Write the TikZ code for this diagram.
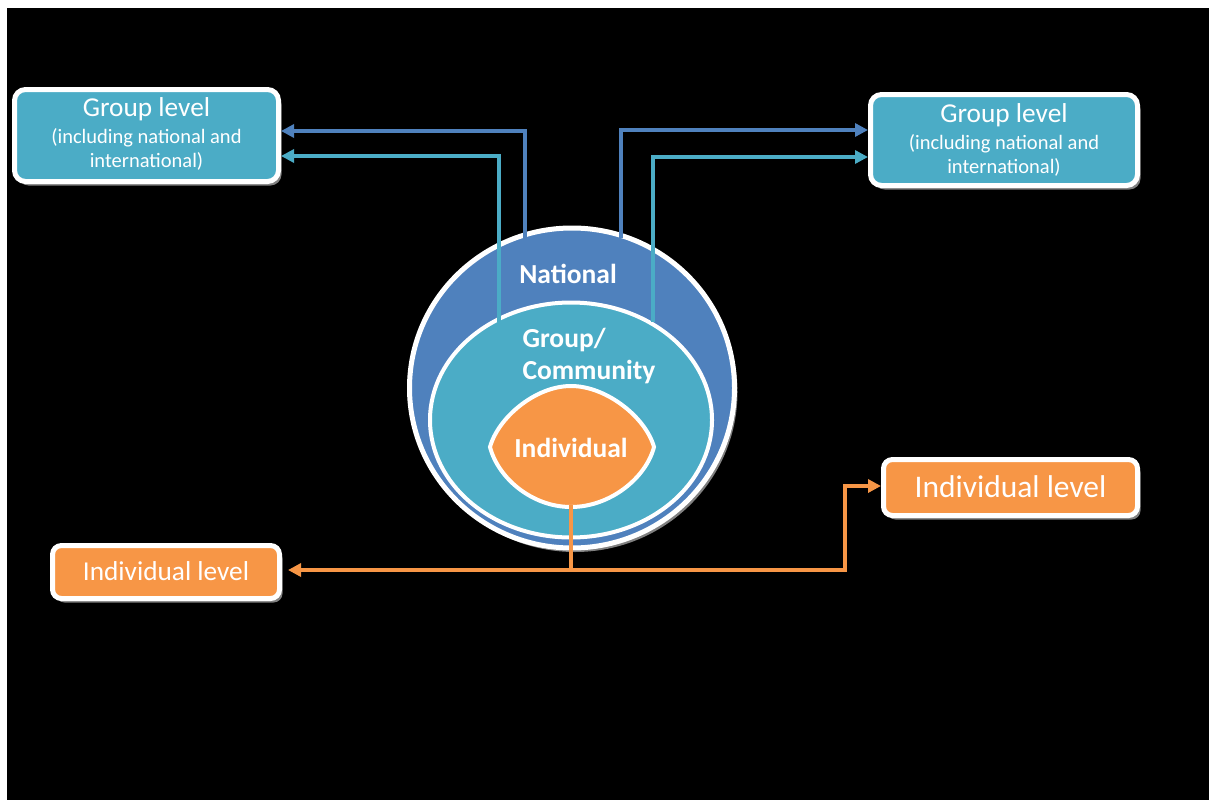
\documentclass[tikz,border=0pt]{standalone}
\usepackage{fontspec}
\setmainfont{Carlito}
\usetikzlibrary{arrows.meta,shadows}
\definecolor{nblue}{HTML}{4F81BD}
\definecolor{nteal}{HTML}{4BACC6}
\definecolor{norange}{HTML}{F79646}
\tikzset{
  shad/.style={drop shadow={shadow xshift=3pt,shadow yshift=-4pt,fill=black!50,opacity=1}},
  tealbox/.style={shad,draw=white,line width=5pt,fill=nteal,rounded corners=11pt,inner sep=0pt},
  orangebox/.style={shad,draw=white,line width=5pt,fill=norange,rounded corners=9pt,inner sep=0pt},
  conn/.style={line width=4pt,-{Triangle[length=13pt,width=13pt]}},
  btitle/.style={text=white,font=\fontsize{27.3}{30}\selectfont},
  bsmall/.style={text=white,align=center,font=\fontsize{20.5}{24}\selectfont},
  clabel/.style={text=white,font=\bfseries\fontsize{27.5}{32}\selectfont},
}
\begin{document}
\begin{tikzpicture}[x=1pt,y=-1pt]
\useasboundingbox (0,0) rectangle (1209,800);
\fill[white] (0,0) rectangle (1209,800);
\fill[black] (7,8) rectangle (1209,800);

% boxes
\node[tealbox,minimum width=264pt,minimum height=92pt] (gl) at (146.5,135.5) {};
\node[btitle] (glt) at (146.5,109) {Group level};
\node[bsmall] (gls) at (146.5,149) {(including national and\\international)};

\node[tealbox,minimum width=267pt,minimum height=91pt] (gr) at (1004,140) {};
\node[btitle] (grt) at (1004,115) {Group level};
\node[bsmall] (grs) at (1004,155.5) {(including national and\\international)};

\node[orangebox,minimum width=227pt,minimum height=53pt] (il) at (166,572) {};
\node[btitle] (ilt) at (166,571) {Individual level};

\node[orangebox,minimum width=254pt,minimum height=56pt] (ir) at (1010.5,487.5) {};
\node[btitle,font=\fontsize{31.5}{34}\selectfont] (irt) at (1010.5,487) {Individual level};

% circles
\path[shad,fill=nblue,draw=white,line width=5pt] (572,388) ellipse [x radius=162.5,y radius=160];
\path[fill=nteal,draw=white,line width=4pt] (571,420) ellipse [x radius=141,y radius=117.5];
\path[fill=norange,draw=white,line width=4pt]
  (490,447) .. controls (498,418) and (535,386) .. (571,386)
  .. controls (607,386) and (646,418) .. (654,447)
  .. controls (646,478) and (610,507) .. (571,507)
  .. controls (532,507) and (498,478) .. (490,447) -- cycle;

\node[clabel] (nat) at (568,274) {National};
\node[clabel,align=left,anchor=west] (grp) at (519,356) {Group/\\Community};
\node[clabel] (ind) at (571,448) {Individual};

% connector endpoints
\coordinate (nb1) at (525,238);
\coordinate (nb2) at (621,238);
\coordinate (nt1) at (499,322);
\coordinate (nt2) at (653,322);
\coordinate (indb) at (571,505);
\coordinate (oj) at (571,570);
\coordinate (ok) at (845,570);

\draw[conn,nblue] (nb1) |- ([yshift=4.5pt]gl.east);
\draw[conn,nteal] (nt1) |- ([yshift=-20.5pt]gl.east);
\draw[conn,nblue] (nb2) |- ([yshift=10pt]gr.west);
\draw[conn,nteal] (nt2) |- ([yshift=-17pt]gr.west);
\draw[line width=4pt,norange] (indb) -- (oj);
\draw[conn,norange,shorten >=6pt] (oj) -- ([yshift=2pt]il.east);
\draw[conn,norange] (oj) -- (ok) |- ([yshift=1.5pt]ir.west);
\end{tikzpicture}
\end{document}
